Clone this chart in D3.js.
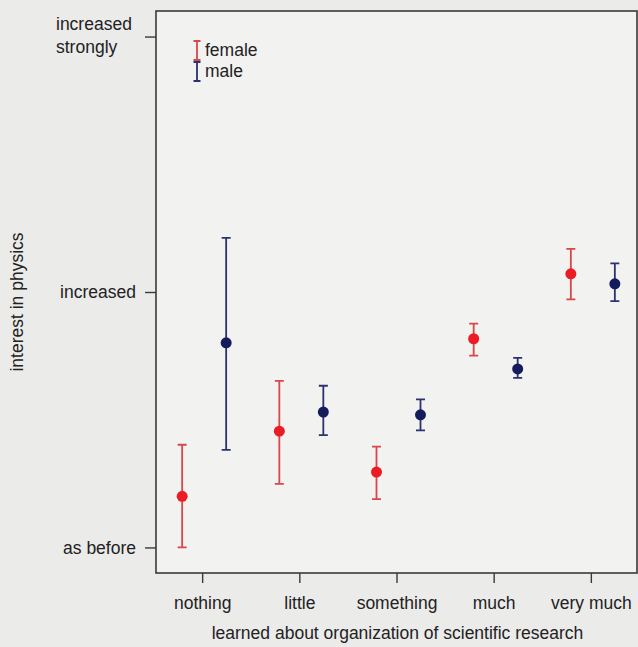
<!DOCTYPE html>
<html>
<head>
<meta charset="utf-8">
<script src="https://cdn.jsdelivr.net/npm/d3@7"></script>
<style>
  body { margin: 0; background: #ebebea; }
  svg { display: block; font-family: "Liberation Sans Narrow", "Liberation Sans", sans-serif; }
</style>
</head>
<body>
<div id="root"></div>
<script>
// categories on the x axis
var categories = ["nothing", "little", "something", "much", "very much"];
// y tick labels (0, 1, 2)
var yLabels = ["as before", "increased", "increased strongly"];

// female: mean, lower, upper
var femaleMean = [0.20, 0.455, 0.295, 0.817, 1.071];
var femaleLow = [0.0, 0.249, 0.189, 0.751, 0.971];
var femaleHigh = [0.402, 0.652, 0.395, 0.876, 1.169];

// male: mean, lower, upper
var maleMean = [0.801, 0.530, 0.519, 0.699, 1.032];
var maleLow = [0.382, 0.440, 0.458, 0.664, 0.964];
var maleHigh = [1.212, 0.633, 0.580, 0.742, 1.112];

var width = 638;
var height = 647;
var plotLeft = 156, plotRight = 637, plotTop = 11, plotBottom = 573;
var fontSize = 17.5;

var svg = d3
  .select("#root")
  .append("svg")
  .attr("width", width)
  .attr("height", height);

var xScale = d3.scalePoint().domain(categories).range([plotLeft, plotRight]).padding(0.475);
var yScale = d3.scaleLinear().domain([-0.1, 2.1]).range([plotBottom, plotTop]);

// plot area
svg
  .append("rect")
  .attr("x", plotLeft)
  .attr("y", plotTop)
  .attr("width", plotRight - plotLeft)
  .attr("height", plotBottom - plotTop)
  .attr("fill", "#f2f2f1")
  .attr("stroke", "#3a3a3a")
  .attr("stroke-width", 1.6);

// x axis
var xAxis = d3.axisBottom(xScale).tickSize(10).tickPadding(14);
var gx = svg
  .append("g")
  .attr("transform", "translate(0," + plotBottom + ")")
  .call(xAxis);
gx.select(".domain").remove();
gx.selectAll(".tick line").attr("stroke", "#3a3a3a").attr("stroke-width", 1.4);
gx.selectAll(".tick text")
  .attr("font-size", fontSize)
  .attr("fill", "#222")
  .attr("font-family", "inherit");

// y axis
var yAxis = d3
  .axisLeft(yScale)
  .tickValues([0, 1, 2])
  .tickSize(11)
  .tickPadding(9)
  .tickFormat((d) => yLabels[d]);
var gy = svg
  .append("g")
  .attr("transform", "translate(" + plotLeft + ",0)")
  .call(yAxis);
gy.select(".domain").remove();
gy.selectAll(".tick line").attr("stroke", "#3a3a3a").attr("stroke-width", 1.4);
gy.selectAll(".tick text")
  .attr("font-size", fontSize)
  .attr("fill", "#222")
  .attr("font-family", "inherit");
// two-line label for the top tick, left aligned
var topLabel = gy.selectAll(".tick text").filter((d) => d === 2);
topLabel
  .text(null)
  .attr("text-anchor", "start")
  .attr("x", 56 - plotLeft)
  .selectAll("tspan")
  .data(["increased", "strongly"])
  .enter()
  .append("tspan")
  .attr("x", 56 - plotLeft)
  .attr("dy", (d, i) => (i === 0 ? "-0.4em" : "1.3em"))
  .text((d) => d);

// axis titles
svg
  .append("text")
  .attr("x", (plotLeft + plotRight) / 2 + 1)
  .attr("y", 639)
  .attr("text-anchor", "middle")
  .attr("font-size", fontSize)
  .attr("fill", "#222")
  .text("learned about organization of scientific research");
svg
  .append("text")
  .attr("transform", "translate(23," + (yScale(1.0) + 10) + ") rotate(-90)")
  .attr("text-anchor", "middle")
  .attr("font-size", fontSize)
  .attr("fill", "#222")
  .text("interest in physics");

// series
var series = [
  { name: "female", mean: femaleMean, low: femaleLow, high: femaleHigh, offset: -20, line: "#d8474a", dot: "#ec1c24" },
  { name: "male", mean: maleMean, low: maleLow, high: maleHigh, offset: 24, line: "#2b3270", dot: "#141c5c" }
];

var cap = 4.5;
series.forEach(function (s) {
  var g = svg.append("g").attr("class", "series-" + s.name);
  var pts = categories.map((c, i) => ({ c: c, m: s.mean[i], lo: s.low[i], hi: s.high[i] }));
  var px = (d) => xScale(d.c) + s.offset;

  g.selectAll(".bar")
    .data(pts)
    .enter()
    .append("path")
    .attr("d", (d) => {
      var x = px(d), y0 = yScale(d.lo), y1 = yScale(d.hi);
      return "M" + (x - cap) + "," + y1 + "H" + (x + cap) +
        "M" + x + "," + y1 + "V" + y0 +
        "M" + (x - cap) + "," + y0 + "H" + (x + cap);
    })
    .attr("fill", "none")
    .attr("stroke", s.line)
    .attr("stroke-width", 1.8);
  g.selectAll("circle")
    .data(pts)
    .enter()
    .append("circle")
    .attr("cx", px)
    .attr("cy", (d) => yScale(d.m))
    .attr("r", 5.5)
    .attr("fill", s.dot);
});

// legend
var legend = svg.append("g").attr("transform", "translate(197,41)");
var legendItems = legend
  .selectAll(".legend-item")
  .data(series)
  .enter()
  .append("g")
  .attr("transform", (d, i) => "translate(0," + i * 21 + ")");
legendItems
  .append("path")
  .attr("d", "M-3.5,0H3.5M0,0V19M-3.5,19H3.5")
  .attr("fill", "none")
  .attr("stroke", (d) => d.line)
  .attr("stroke-width", 1.8);
legendItems
  .append("text")
  .attr("x", 8)
  .attr("y", 15)
  .attr("font-size", fontSize)
  .attr("fill", "#222")
  .text((d) => d.name);
</script>
</body>
</html>
